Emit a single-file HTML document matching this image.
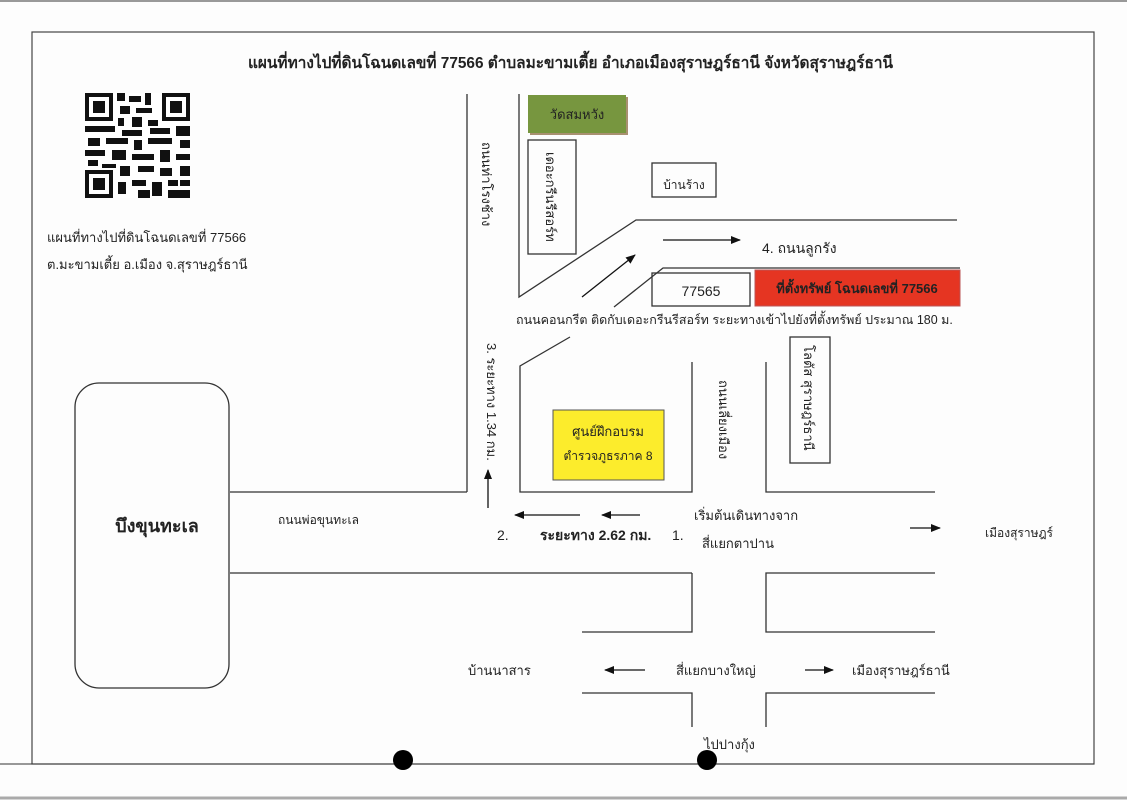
<!DOCTYPE html>
<html><head><meta charset="utf-8"><style>
body{margin:0;background:#fff;}
svg{display:block;}
text{font-family:"Liberation Sans","Noto Sans CJK SC","WenQuanYi Zen Hei",sans-serif;fill:#222;}
</style></head><body>
<svg width="1127" height="800" viewBox="0 0 1127 800" xmlns="http://www.w3.org/2000/svg">
<defs><marker id="a" markerWidth="10" markerHeight="8" refX="9" refY="4" orient="auto" markerUnits="userSpaceOnUse"><path d="M0,0 L10,4 L0,8 z" fill="#111"/></marker></defs>
<rect x="0" y="0" width="1127" height="800" fill="#fdfdfd"/>
<line x1="0" y1="1" x2="1127" y2="1" stroke="#999" stroke-width="2"/>
<line x1="0" y1="798" x2="1127" y2="798" stroke="#aaa" stroke-width="3"/>
<rect x="32" y="32" width="1062" height="732" fill="none" stroke="#444" stroke-width="1.2"/>
<text x="248" y="68" font-size="16" font-weight="bold" textLength="645" lengthAdjust="spacingAndGlyphs" fill="#111">แผนที่ทางไปที่ดินโฉนดเลขที่ 77566 ตำบลมะขามเตี้ย อำเภอเมืองสุราษฎร์ธานี จังหวัดสุราษฎร์ธานี</text>
<!-- QR -->
<g fill="#111">
<rect x="85" y="93" width="105" height="105" fill="#fff"/>
<rect x="85" y="93" width="28" height="28"/><rect x="89" y="97" width="20" height="20" fill="#fff"/><rect x="93" y="101" width="12" height="12"/>
<rect x="162" y="93" width="28" height="28"/><rect x="166" y="97" width="20" height="20" fill="#fff"/><rect x="170" y="101" width="12" height="12"/>
<rect x="85" y="170" width="28" height="28"/><rect x="89" y="174" width="20" height="20" fill="#fff"/><rect x="93" y="178" width="12" height="12"/>
<rect x="117" y="93" width="8" height="8"/><rect x="129" y="96" width="12" height="6"/><rect x="145" y="93" width="6" height="12"/><rect x="120" y="106" width="10" height="8"/><rect x="136" y="108" width="16" height="5"/><rect x="118" y="118" width="6" height="8"/><rect x="132" y="117" width="10" height="10"/><rect x="148" y="120" width="10" height="6"/>
<rect x="85" y="126" width="30" height="6"/><rect x="122" y="130" width="20" height="6"/><rect x="150" y="128" width="20" height="6"/><rect x="176" y="126" width="14" height="10"/>
<rect x="88" y="138" width="12" height="8"/><rect x="106" y="138" width="22" height="6"/><rect x="134" y="140" width="8" height="10"/><rect x="148" y="138" width="24" height="6"/><rect x="180" y="140" width="10" height="8"/>
<rect x="85" y="150" width="20" height="6"/><rect x="112" y="150" width="14" height="10"/><rect x="132" y="154" width="22" height="6"/><rect x="160" y="150" width="10" height="12"/><rect x="176" y="154" width="14" height="6"/>
<rect x="88" y="160" width="10" height="6"/><rect x="102" y="164" width="14" height="4"/><rect x="120" y="166" width="10" height="10"/><rect x="138" y="166" width="16" height="6"/><rect x="160" y="168" width="12" height="8"/><rect x="180" y="166" width="10" height="10"/>
<rect x="118" y="182" width="8" height="12"/><rect x="132" y="180" width="14" height="6"/><rect x="138" y="190" width="12" height="8"/><rect x="152" y="182" width="10" height="14"/><rect x="168" y="180" width="10" height="6"/><rect x="168" y="190" width="22" height="8"/><rect x="180" y="180" width="10" height="6"/>
</g>
<text x="47" y="242" font-size="13">แผนที่ทางไปที่ดินโฉนดเลขที่ 77566</text>
<text x="47" y="269" font-size="13">ต.มะขามเตี้ย อ.เมือง จ.สุราษฎร์ธานี</text>
<g stroke="#333" stroke-width="1.3" fill="none">
<line x1="467" y1="94" x2="467" y2="492"/>
<line x1="230" y1="492" x2="467" y2="492"/>
<line x1="230" y1="573" x2="692" y2="573"/>
<polyline points="519,94 519,297 636,220 957,220"/>
<polyline points="614,307 663,268 960,268"/>
<polyline points="570,337 520,366 520,492 692,492 692,362"/>
<polyline points="766,362 766,492 935,492"/>
<polyline points="692,573 692,632 582,632"/>
<polyline points="935,573 766,573 766,632 935,632"/>
<polyline points="582,693 692,693 692,727"/>
<polyline points="935,693 766,693 766,727"/>
<rect x="75" y="383" width="154" height="305" rx="24"/>
<rect x="528" y="140" width="48" height="114"/>
<rect x="652" y="163" width="64" height="34"/>
<rect x="652" y="273" width="98" height="33"/>
<rect x="790" y="337" width="40" height="126"/>
</g>
<line x1="0" y1="764" x2="1094" y2="764" stroke="#333" stroke-width="1"/>
<rect x="530" y="97" width="98" height="38" fill="#a89070"/>
<rect x="528" y="95" width="98" height="38" fill="#77963f"/>
<text x="577" y="119" font-size="13" text-anchor="middle">วัดสมหวัง</text>
<rect x="755" y="270" width="205" height="36" fill="#e53522" stroke="#b55" stroke-width="1"/>
<text x="857" y="293" font-size="13" font-weight="bold" text-anchor="middle" fill="#222">ที่ตั้งทรัพย์ โฉนดเลขที่ 77566</text>
<rect x="553" y="410" width="111" height="70" fill="#fcec2c" stroke="#555" stroke-width="1"/>
<text x="608" y="436" font-size="13" text-anchor="middle">ศูนย์ฝึกอบรม</text>
<text x="608" y="460" font-size="12" text-anchor="middle">ตำรวจภูธรภาค 8</text>
<text x="701" y="296" font-size="14" text-anchor="middle">77565</text>
<text x="684" y="189" font-size="12" text-anchor="middle">บ้านร้าง</text>
<text x="762" y="253" font-size="14">4.  ถนนลูกรัง</text>
<text x="516" y="324" font-size="12.5">ถนนคอนกรีต ติดกับเดอะกรีนรีสอร์ท ระยะทางเข้าไปยังที่ตั้งทรัพย์ ประมาณ 180 ม.</text>
<g font-size="13">
<text transform="translate(482,142) rotate(90)">ถนนท่าโรงช้าง</text>
<text transform="translate(546,152) rotate(90)">เดอะกรีนรีสอร์ท</text>
<text transform="translate(487,343) rotate(90)">3.  ระยะทาง 1.34 กม.</text>
<text transform="translate(719,380) rotate(90)">ถนนเลี่ยงเมือง</text>
<text transform="translate(804,345) rotate(90)">โลตัส สุราษฎร์ธานี</text>
</g>
<g stroke="#111" stroke-width="1.3" marker-end="url(#a)">
<line x1="663" y1="240" x2="740" y2="240"/>
<line x1="582" y1="297" x2="635" y2="255"/>
<line x1="488" y1="508" x2="488" y2="470"/>
<line x1="580" y1="515" x2="515" y2="515"/>
<line x1="640" y1="515" x2="602" y2="515"/>
<line x1="910" y1="528" x2="940" y2="528"/>
<line x1="645" y1="670" x2="605" y2="670"/>
<line x1="805" y1="670" x2="833" y2="670"/>
</g>
<text x="497" y="540" font-size="14">2.</text>
<text x="540" y="540" font-size="14" font-weight="bold">ระยะทาง 2.62 กม.</text>
<text x="672" y="540" font-size="14">1.</text>
<text x="694" y="520" font-size="13">เริ่มต้นเดินทางจาก</text>
<text x="702" y="548" font-size="13">สี่แยกตาปาน</text>
<text x="985" y="537" font-size="12">เมืองสุราษฎร์</text>
<text x="278" y="524" font-size="12">ถนนพ่อขุนทะเล</text>
<text x="157" y="532" font-size="18" font-weight="bold" text-anchor="middle" fill="#111">บึงขุนทะเล</text>
<text x="468" y="675" font-size="13">บ้านนาสาร</text>
<text x="676" y="675" font-size="13">สี่แยกบางใหญ่</text>
<text x="852" y="675" font-size="13">เมืองสุราษฎร์ธานี</text>
<text x="704" y="749" font-size="13">ไปปางกุ้ง</text>
<circle cx="403" cy="760" r="10" fill="#000"/>
<circle cx="707" cy="760" r="10" fill="#000"/>
</svg>
</body></html>
